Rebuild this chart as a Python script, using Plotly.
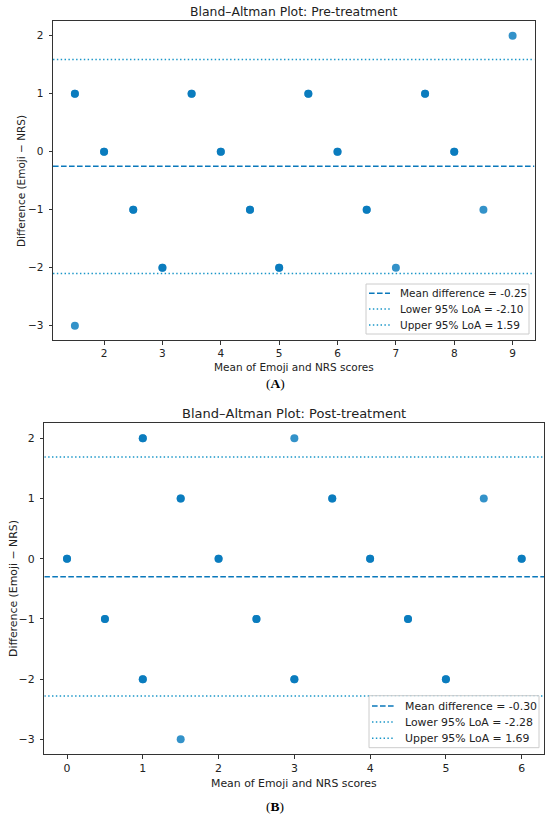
import plotly.graph_objects as go

# --- Données ---
# Panneau A : pré-traitement (n = nombre de points superposés)
pre_x = [1.5, 1.5, 2, 2.5, 3, 3.5, 4, 4.5, 5, 5.5, 6, 6.5, 7, 7.5, 8, 8.5, 9]
pre_y = [1, -3, 0, -1, -2, 1, 0, -1, -2, 1, 0, -1, -2, 1, 0, -1, 2]
pre_n = [2, 1, 2, 2, 2, 2, 2, 2, 2, 2, 2, 2, 1, 2, 2, 1, 1]
pre_mean = -0.25
pre_lower = -2.10
pre_upper = 1.59

# Panneau B : post-traitement
post_x = [0, 0.5, 1, 1, 1.5, 1.5, 2, 2.5, 3, 3, 3.5, 4, 4.5, 5, 5.5, 6]
post_y = [0, -1, 2, -2, 1, -3, 0, -1, 2, -2, 1, 0, -1, -2, 1, 0]
post_n = [2, 2, 2, 2, 2, 1, 2, 2, 1, 2, 2, 2, 2, 2, 1, 2]
post_mean = -0.30
post_lower = -2.28
post_upper = 1.69

pre_xticks = [2, 3, 4, 5, 6, 7, 8, 9]
post_xticks = [0, 1, 2, 3, 4, 5, 6]
yticks = [-3, -2, -1, 0, 1, 2]

W, H = 550, 818
POINT = "#0077BB"
MEAN_C = "#0a78bb"
LOA_C = "#1a96c8"
DASH = "5.6px,2.4px"
DOT = "1.45px,2.4px"
FONT = "DejaVu Sans"
TXT = "#222222"


def px(v):
    return v / W


def py(v):
    return 1 - v / H


def expand(xs, ys, ns):
    ox, oy = [], []
    for x, y, n in zip(xs, ys, ns):
        ox += [x] * n
        oy += [y] * n
    return ox, oy


fig = go.Figure()

# Géométrie des deux panneaux (pixels du graphique d'origine)
panels = [
    dict(x=pre_x, y=pre_y, n=pre_n, mean=pre_mean, lo=pre_lower, up=pre_upper,
         xr=[1.125, 9.375], xa="x", ya="y", fs=10.5, fl=10.5, ft=12.4,
         dom_x=[px(53), px(534.5)], dom_y=[py(340.2), py(21.2)],
         title="Bland–Altman Plot: Pre-treatment", t_y=11, xl_y=367, yl_x=21, yl_y=181,
         box=(366, 529, 284, 334), rows=[293.3, 309, 325], hx=(369, 390), tx=398),
    dict(x=post_x, y=post_y, n=post_n, mean=post_mean, lo=post_lower, up=post_upper,
         xr=[-0.3, 6.3], xa="x2", ya="y2", fs=10.9, fl=10.9, ft=13.0,
         dom_x=[px(44.3), px(544.4)], dom_y=[py(754.4), py(423.3)],
         title="Bland–Altman Plot: Post-treatment", t_y=413, xl_y=783, yl_x=13, yl_y=589,
         box=(369, 539, 695.7, 747.7), rows=[706, 722, 738.3], hx=(372, 395), tx=403),
]

for p in panels:
    sx, sy = expand(p["x"], p["y"], p["n"])
    fig.add_trace(go.Scatter(
        x=sx, y=sy, mode="markers", showlegend=False,
        marker=dict(size=8, color=POINT, opacity=0.8, line=dict(width=0)),
        xaxis=p["xa"], yaxis=p["ya"], hoverinfo="x+y"
    ))
    lignes = [
        (p["mean"], f"Mean difference = {p['mean']:.2f}", MEAN_C, DASH),
        (p["lo"], f"Lower 95% LoA = {p['lo']:.2f}", LOA_C, DOT),
        (p["up"], f"Upper 95% LoA = {p['up']:.2f}", LOA_C, DOT),
    ]
    for val, nom, col, dash in lignes:
        fig.add_trace(go.Scatter(
            x=p["xr"], y=[val, val], mode="lines", name=nom, showlegend=False,
            line=dict(color=col, width=1.45, dash=dash),
            xaxis=p["xa"], yaxis=p["ya"], hoverinfo="name"
        ))

    # Légende façon matplotlib (cadre, traits, textes)
    x0, x1, y0, y1 = p["box"]
    fig.add_shape(type="rect", xref="paper", yref="paper", layer="above",
                  x0=px(x0), x1=px(x1), y0=py(y1), y1=py(y0),
                  fillcolor="rgba(255,255,255,0.8)", line=dict(color="#cccccc", width=1))
    for (val, nom, col, dash), ry in zip(lignes, p["rows"]):
        fig.add_shape(type="line", xref="paper", yref="paper", layer="above",
                      x0=px(p["hx"][0]), x1=px(p["hx"][1]), y0=py(ry), y1=py(ry),
                      line=dict(color=col, width=1.45, dash=dash))
        fig.add_annotation(text=nom, xref="paper", yref="paper", x=px(p["tx"]), y=py(ry),
                           xanchor="left", yanchor="middle", showarrow=False,
                           font=dict(family=FONT, size=p["fl"], color=TXT))

    # Titre et libellés d'axes
    cx = (p["dom_x"][0] + p["dom_x"][1]) / 2
    fig.add_annotation(text=p["title"], xref="paper", yref="paper", x=cx, y=py(p["t_y"]),
                       xanchor="center", yanchor="middle", showarrow=False,
                       font=dict(family=FONT, size=p["ft"], color=TXT))
    fig.add_annotation(text="Mean of Emoji and NRS scores", xref="paper", yref="paper",
                       x=cx, y=py(p["xl_y"]), xanchor="center", yanchor="middle",
                       showarrow=False, font=dict(family=FONT, size=p["fs"], color=TXT))
    fig.add_annotation(text="Difference (Emoji − NRS)", xref="paper", yref="paper",
                       x=px(p["yl_x"]), y=py(p["yl_y"]), xanchor="center", yanchor="middle",
                       textangle=-90, showarrow=False,
                       font=dict(family=FONT, size=p["fs"], color=TXT))

axe = dict(showline=True, mirror=True, linecolor="#333333", linewidth=1,
           ticks="outside", ticklen=3.5, tickcolor="#333333", showgrid=False,
           zeroline=False)

fig.update_layout(
    width=W, height=H,
    margin=dict(l=0, r=0, t=0, b=0),
    paper_bgcolor="white", plot_bgcolor="white",
    font=dict(family=FONT, color=TXT),
    showlegend=False,
    xaxis=dict(axe, domain=panels[0]["dom_x"], range=panels[0]["xr"], tickvals=pre_xticks,
               anchor="y", tickfont=dict(family=FONT, size=10.5, color=TXT)),
    yaxis=dict(axe, domain=panels[0]["dom_y"], range=[-3.25, 2.25], tickvals=yticks,
               anchor="x", ticklabelstandoff=3, tickfont=dict(family=FONT, size=10.5, color=TXT)),
    xaxis2=dict(axe, domain=panels[1]["dom_x"], range=panels[1]["xr"], tickvals=post_xticks,
                anchor="y2", tickfont=dict(family=FONT, size=10.9, color=TXT)),
    yaxis2=dict(axe, domain=panels[1]["dom_y"], range=[-3.25, 2.25], tickvals=yticks,
                anchor="x2", ticklabelstandoff=3, tickfont=dict(family=FONT, size=10.9, color=TXT)),
)

# Légendes (A) / (B)
for t, y in [("(<b>A</b>)", 384), ("(<b>B</b>)", 806)]:
    fig.add_annotation(text=t, xref="paper", yref="paper", x=px(275), y=py(y),
                       xanchor="center", yanchor="middle", showarrow=False,
                       font=dict(family="Liberation Serif", size=13.5, color="#000000"))

# La page HTML a une marge de 8 px par défaut : on la supprime
fig.write_html("out.html", config={"displayModeBar": False},
               post_script="document.body.style.margin='0';")
